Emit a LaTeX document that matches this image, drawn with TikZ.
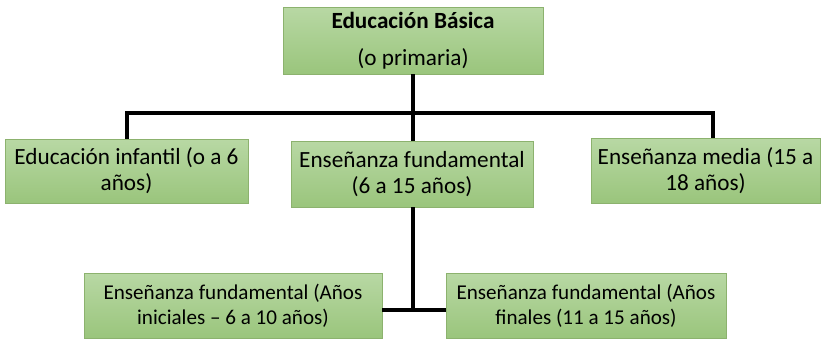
\documentclass[tikz,border=0pt]{standalone}
\usepackage{fontspec}
\setmainfont{Carlito}
\usetikzlibrary{positioning,calc}
\definecolor{boxtop}{RGB}{184,216,164}
\definecolor{boxbot}{RGB}{154,197,124}
\definecolor{boxline}{RGB}{140,178,110}

\begin{document}
\begin{tikzpicture}[x=0.025cm,y=-0.025cm,
  box/.style={rectangle, draw=boxline, top color=boxtop, bottom color=boxbot,
    align=center, inner sep=0pt, font=\fontsize{16.5}{18.5}\selectfont},
  small/.style={box, font=\fontsize{15}{18}\selectfont},
  link/.style={line width=2.2pt}]

  \useasboundingbox (0,0) rectangle (824,344);

  \node [box, minimum width=260*0.025cm, minimum height=67*0.025cm] (basica) at (413,40.5)
      {\textbf{Educación Básica}\\[8pt](o primaria)};

  \node [box, minimum width=243*0.025cm, minimum height=64*0.025cm] (infantil) at (126.5,171)
      {Educación infantil (o a 6\\años)};
  \node [box, minimum width=242*0.025cm, minimum height=66*0.025cm] (fund) at (412,174)
      {Enseñanza fundamental\\(6 a 15 años)};
  \node [box, minimum width=229*0.025cm, minimum height=65*0.025cm] (media) at (705.5,170.5)
      {Enseñanza media (15 a\\18 años)};

  \node [small, minimum width=298*0.025cm, minimum height=65*0.025cm] (inic) at (233,305.5)
      {Enseñanza fundamental (Años\\iniciales – 6 a 10 años)};
  \node [small, minimum width=280*0.025cm, minimum height=65*0.025cm] (fin) at (586,305.5)
      {Enseñanza fundamental (Años\\finales (11 a 15 años)};

  % connectors
  \coordinate (bus) at (413,113);
  \coordinate (busl) at (127,113);
  \coordinate (busr) at (713,113);
  \coordinate (split) at (413,310);

  \draw[link] (basica.south -| bus) -- (bus);
  \draw[link] (infantil.north -| busl) -- (busl) -- (busr) -- (media.north -| busr);
  \draw[link] (bus) -- (fund.north -| bus);
  \draw[link] (fund.south -| split) -- (split);
  \draw[link] (inic.east |- split) -- (fin.west |- split);
\end{tikzpicture}
\end{document}
